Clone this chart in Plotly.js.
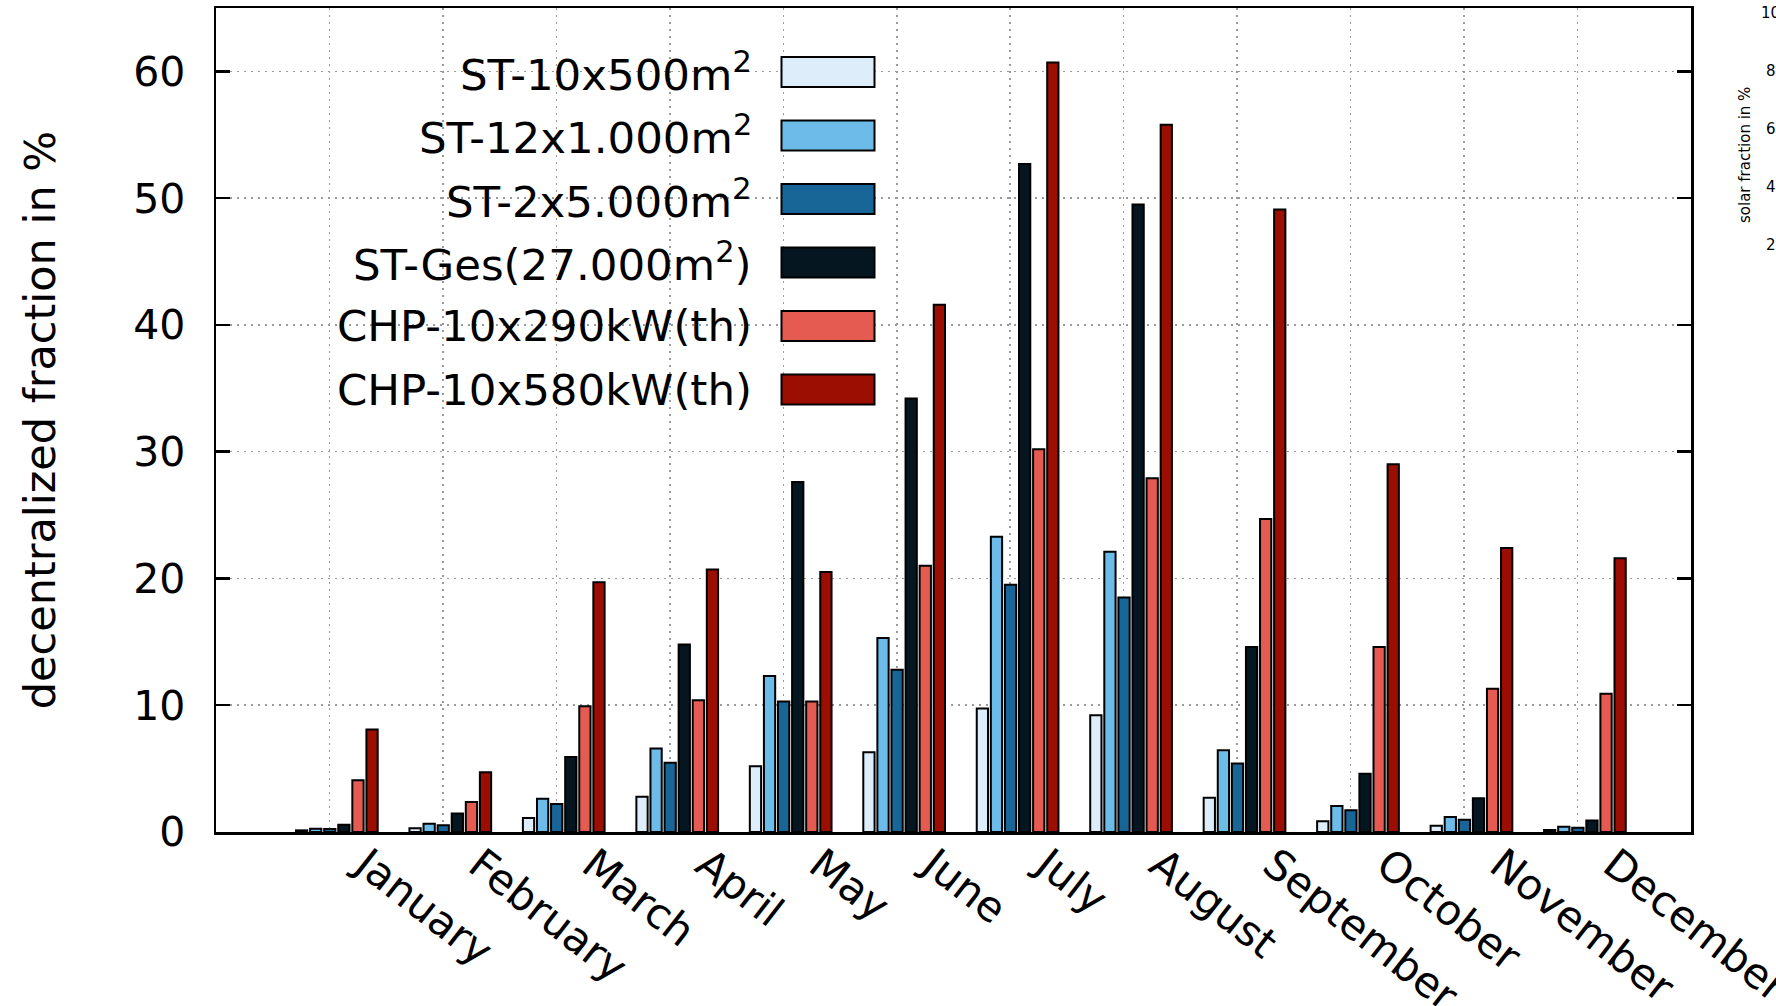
<!DOCTYPE html>
<html>
<head>
<meta charset="utf-8">
<script src="https://cdn.plot.ly/plotly-3.0.1.min.js"></script>
<style>
html,body{margin:0;padding:0;background:#ffffff;overflow:hidden;}
#chart{width:1776px;height:1006px;}
</style>
</head>
<body>
<div id="chart"></div>
<script>
// ---------------- data ----------------
const months = ['January','February','March','April','May','June','July','August','September','October','November','December'];

const seriesNames = [
  'ST-10x500m<sup>2</sup>',
  'ST-12x1.000m<sup>2</sup>',
  'ST-2x5.000m<sup>2</sup>',
  'ST-Ges(27.000m<sup>2</sup>)',
  'CHP-10x290kW(th)',
  'CHP-10x580kW(th)'
];
const seriesColors = ['#ddeefa','#6cbbe8','#186597','#061620','#e55b52','#9c0d02'];

const st10x500   = [0.13, 0.29, 1.1, 2.79, 5.18, 6.3, 9.75, 9.2, 2.7, 0.84, 0.5, 0.16];
const st12x1000  = [0.26, 0.66, 2.63, 6.58, 12.3, 15.3, 23.3, 22.1, 6.45, 2.05, 1.18, 0.42];
const st2x5000   = [0.24, 0.53, 2.21, 5.47, 10.3, 12.8, 19.5, 18.5, 5.4, 1.71, 0.97, 0.34];
const stGes      = [0.58, 1.45, 5.92, 14.8, 27.6, 34.2, 52.7, 49.5, 14.6, 4.6, 2.66, 0.9];
const chp290     = [4.08, 2.37, 9.92, 10.39, 10.3, 21.0, 30.2, 27.9, 24.7, 14.6, 11.3, 10.9];
const chp580     = [8.08, 4.71, 19.7, 20.7, 20.5, 41.6, 60.7, 55.8, 49.1, 29.0, 22.4, 21.6];

const yTicks = [0, 10, 20, 30, 40, 50, 60];
const solarTickLabels = ['100', '80', '60', '40', '20'];
const yTitle = 'decentralized fraction in %';
const solarTitle = 'solar fraction in %';

// ---------------- layout helpers ----------------
const W = 1776, H = 1006;
const M = {l: 216, r: 85, t: 8, b: 174};
const PW = W - M.l - M.r, PH = H - M.t - M.b;
const px = x => (x - M.l) / PW;          // page px -> paper x
const py = y => (H - M.b - y) / PH;      // page px -> paper y

const allSeries = [st10x500, st12x1000, st2x5000, stGes, chp290, chp580];
const tickPos = months.map((m, i) => i + 1);
const groupShift = 0.065;
const barX = tickPos.map(v => v + groupShift);

const traces = allSeries.map((vals, k) => ({
  type: 'bar',
  name: seriesNames[k],
  x: barX,
  y: vals,
  marker: {color: seriesColors[k], line: {color: '#000000', width: 2}},
  hoverinfo: 'skip'
}));

// manual legend (text left of swatch, as in the original)
const shapes = [];
const annotations = [];
shapes.push({type: 'rect', xref: 'paper', yref: 'paper', layer: 'between',
  x0: px(245), x1: px(904), y0: py(41), y1: py(429),
  fillcolor: '#ffffff', line: {width: 0}});
seriesNames.forEach((name, k) => {
  const cy = 72 + k * 63.5;
  shapes.push({type: 'rect', xref: 'paper', yref: 'paper', layer: 'above',
    x0: px(781.5), x1: px(874.5), y0: py(cy + 15), y1: py(cy - 15),
    fillcolor: seriesColors[k], line: {color: '#000000', width: 2}});
  annotations.push({xref: 'paper', yref: 'paper', x: px(754), y: py(cy),
    xanchor: 'right', yanchor: 'middle', showarrow: false, text: name,
    font: {family: 'DejaVu Sans', size: 43.5, color: '#000000'}});
});

// partially visible neighbouring axis at right edge
annotations.push({xref: 'paper', yref: 'paper', x: px(1745), y: py(155),
  xanchor: 'center', yanchor: 'middle', showarrow: false, textangle: -90,
  text: solarTitle, font: {family: 'DejaVu Sans', size: 15, color: '#000000'}});
solarTickLabels.forEach((t, k) => {
  annotations.push({xref: 'paper', yref: 'paper', x: px(1775), y: py(13 + k * 58),
    xanchor: 'center', yanchor: 'middle', showarrow: false, text: t,
    font: {family: 'DejaVu Sans', size: 15, color: '#000000'}});
});

const gridStyle = {showgrid: true, gridcolor: '#9a9a9a', gridwidth: 1.5, griddash: '2px,5px'};

const layout = {
  width: W, height: H,
  margin: {l: M.l, r: M.r, t: M.t, b: M.b, pad: 0},
  paper_bgcolor: '#ffffff', plot_bgcolor: '#ffffff',
  font: {family: 'DejaVu Sans', size: 44, color: '#000000'},
  barmode: 'group', bargap: 0.255, bargroupgap: 0.2,
  showlegend: false,
  xaxis: Object.assign({
    type: 'linear', range: [0, 13],
    tickmode: 'array', tickvals: tickPos, ticktext: months,
    tickangle: 38, ticks: '', tickfont: {size: 42},
    ticklabelshift: 36, ticklabelstandoff: -11, ticklabeloverflow: 'allow',
    showline: true, linecolor: '#000000', linewidth: 2.5, mirror: true,
    zeroline: false, fixedrange: true
  }, gridStyle),
  yaxis: Object.assign({
    range: [0, 65], tickmode: 'array', tickvals: yTicks,
    ticks: 'inside', ticklen: 14, tickwidth: 2.5, tickcolor: '#000000',
    tickfont: {size: 41}, ticklabelstandoff: 20,
    showline: true, linecolor: '#000000', linewidth: 2.5, mirror: 'ticks',
    zeroline: false, fixedrange: true,
    title: {text: yTitle, font: {size: 43}, standoff: 64}
  }, gridStyle),
  shapes: shapes,
  annotations: annotations
};

Plotly.newPlot('chart', traces, layout, {displayModeBar: false, staticPlot: true});
</script>
</body>
</html>
